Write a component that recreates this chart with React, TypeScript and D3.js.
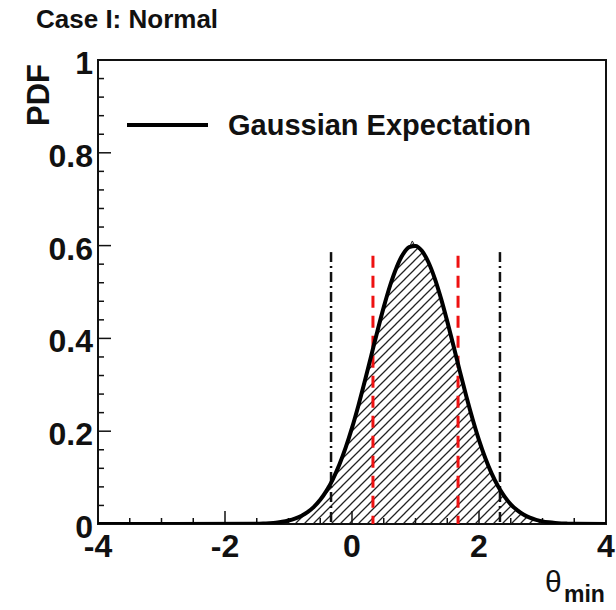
import React from "react";
import * as d3 from "d3";

// Gaussian expectation curve
const curveX = [-4, -1.5, -1.4, -1.3, -1.2, -1.1, -1.0, -0.9, -0.8, -0.7, -0.6, -0.5, -0.4, -0.3, -0.2, -0.1, 0.0, 0.1, 0.2, 0.3, 0.4, 0.5, 0.6, 0.7, 0.8, 0.9, 1.0, 1.1, 1.2, 1.3, 1.4, 1.5, 1.6, 1.7, 1.8, 1.9, 2.0, 2.1, 2.2, 2.3, 2.4, 2.5, 2.6, 2.7, 2.8, 2.9, 3.0, 3.1, 3.2, 3.3, 3.4, 3.5, 4];
const curveY = [0, 0.0006, 0.0010, 0.0018, 0.0029, 0.0047, 0.0075, 0.0115, 0.0174, 0.0256, 0.0370, 0.0521, 0.0719, 0.0969, 0.1276, 0.1645, 0.2071, 0.2550, 0.3070, 0.3612, 0.4156, 0.4674, 0.5140, 0.5525, 0.5808, 0.5967, 0.5994, 0.5887, 0.5652, 0.5305, 0.4868, 0.4367, 0.3831, 0.3284, 0.2753, 0.2257, 0.1808, 0.1417, 0.1085, 0.0812, 0.0595, 0.0425, 0.0298, 0.0203, 0.0136, 0.0089, 0.0057, 0.0036, 0.0022, 0.0013, 0.0008, 0.0004, 0];

// Hatched histogram
const histX = [-1.5, -1.4, -1.3, -1.2, -1.1, -1.0, -0.9, -0.8, -0.7, -0.6, -0.5, -0.4, -0.3, -0.2, -0.1, 0.0, 0.1, 0.2, 0.3, 0.4, 0.5, 0.6, 0.7, 0.8, 0.9, 0.95, 1.0, 1.1, 1.2, 1.3, 1.4, 1.5, 1.6, 1.7, 1.8, 1.9, 2.0, 2.1, 2.2, 2.3, 2.4, 2.5, 2.6, 2.7, 2.8, 2.9, 3.0, 3.1, 3.2, 3.3, 3.4, 3.5];
const histY = [0.001, 0.001, 0.002, 0.003, 0.005, 0.008, 0.011, 0.018, 0.025, 0.038, 0.051, 0.073, 0.095, 0.129, 0.163, 0.209, 0.253, 0.309, 0.359, 0.417, 0.466, 0.516, 0.551, 0.582, 0.595, 0.610, 0.597, 0.587, 0.566, 0.529, 0.488, 0.435, 0.384, 0.327, 0.276, 0.224, 0.182, 0.140, 0.109, 0.080, 0.061, 0.042, 0.030, 0.020, 0.014, 0.009, 0.006, 0.004, 0.002, 0.001, 0.001, 0];

// Interval lines
const oneSigmaX = [0.33, 1.67];
const oneSigmaTop = 0.578;
const twoSigmaX = [-0.33, 2.33];
const twoSigmaTop = 0.586;

const xTickValues = [-4, -2, 0, 2, 4];
const xTickLabels = ["-4", "-2", "0", "2", "4"];
const yTickValues = [0, 0.2, 0.4, 0.6, 0.8, 1];
const yTickLabels = ["0", "0.2", "0.4", "0.6", "0.8", "1"];

const titleText = "Case I: Normal";
const legendText = "Gaussian Expectation";
const yTitle = "PDF";

const FONT = "'Liberation Sans', Arial, Helvetica, sans-serif";

export default function App() {
  const W = 616, H = 610;
  const left = 98, right = 606, top = 60, bottom = 524;
  const x = d3.scaleLinear().domain([-4, 4]).range([left, right]);
  const y = d3.scaleLinear().domain([0, 1]).range([bottom, top]);

  const curvePts: [number, number][] = curveX.map((v, i) => [v, curveY[i]]);
  const histPts: [number, number][] = histX.map((v, i) => [v, histY[i]]);

  const line = d3.line<[number, number]>().x(d => x(d[0])).y(d => y(d[1])).curve(d3.curveMonotoneX);
  const histLine = d3.line<[number, number]>().x(d => x(d[0])).y(d => y(d[1]));
  const histArea = d3.area<[number, number]>().x(d => x(d[0])).y0(y(0)).y1(d => y(d[1]));

  const xMinor = d3.range(-4, 4.001, 0.5).filter(v => Math.abs(v / 2 - Math.round(v / 2)) > 1e-6);
  const yMinor = d3.range(0, 1.001, 0.04).filter(v => Math.abs(v / 0.2 - Math.round(v / 0.2)) > 1e-6);

  return (
    <svg width={W} height={H} style={{ position: "absolute", left: 0, top: 0, background: "#fff" }}>
      <defs>
        <pattern id="hatch" patternUnits="userSpaceOnUse" width="9" height="9">
          <path d="M-1,10 L10,-1 M-5.5,5.5 L5.5,-5.5 M3.5,14.5 L14.5,3.5" stroke="#222" strokeWidth="1.3" />
        </pattern>
        <clipPath id="frame">
          <rect x={left} y={top} width={right - left} height={bottom - top} />
        </clipPath>
      </defs>
      <rect width={W} height={H} fill="#fff" />

      {/* title */}
      <text x={36} y={28} fontFamily={FONT} fontWeight="bold" fontSize={26} fill="#111">{titleText}</text>

      <g clipPath="url(#frame)">
        <path d={histArea(histPts) || ""} fill="url(#hatch)" />
        <path d={histLine(histPts) || ""} fill="none" stroke="#222" strokeWidth={1} />
      </g>

      {/* axes frame */}
      <rect x={left} y={top} width={right - left} height={bottom - top} fill="none" stroke="#111" strokeWidth={2} />

      {/* x ticks */}
      {xTickValues.map(v => (
        <line key={"xM" + v} x1={x(v)} x2={x(v)} y1={bottom} y2={bottom - 13} stroke="#111" strokeWidth={1.5} />
      ))}
      {xMinor.map(v => (
        <line key={"xm" + v} x1={x(v)} x2={x(v)} y1={bottom} y2={bottom - 6} stroke="#111" strokeWidth={1.5} />
      ))}
      {yTickValues.map(v => (
        <line key={"yM" + v} x1={left} x2={left + 13} y1={y(v)} y2={y(v)} stroke="#111" strokeWidth={1.5} />
      ))}
      {yMinor.map(v => (
        <line key={"ym" + v} x1={left} x2={left + 6} y1={y(v)} y2={y(v)} stroke="#111" strokeWidth={1.5} />
      ))}

      {/* interval lines */}
      {twoSigmaX.map(v => (
        <line key={"b" + v} x1={x(v)} x2={x(v)} y1={y(twoSigmaTop)} y2={bottom} stroke="#111" strokeWidth={2.5} strokeDasharray="10,4,2,4" />
      ))}
      {oneSigmaX.map(v => (
        <line key={"r" + v} x1={x(v)} x2={x(v)} y1={y(oneSigmaTop)} y2={bottom} stroke="#ee1111" strokeWidth={3} strokeDasharray="12,8" />
      ))}

      {/* gaussian curve */}
      <g clipPath="url(#frame)">
        <path d={line(curvePts) || ""} fill="none" stroke="#000" strokeWidth={4} strokeLinejoin="round" />
      </g>

      {/* tick labels */}
      {xTickValues.map((v, i) => (
        <text key={"xl" + v} x={x(v)} y={557} textAnchor="middle" fontFamily={FONT} fontWeight="bold" fontSize={32} fill="#111">{xTickLabels[i]}</text>
      ))}
      {yTickValues.map((v, i) => (
        <text key={"yl" + v} x={93} y={y(v) + 14} textAnchor="end" fontFamily={FONT} fontWeight="bold" fontSize={32} fill="#111">{yTickLabels[i]}</text>
      ))}

      {/* axis titles */}
      <text transform={`translate(49,64) rotate(-90)`} textAnchor="end" fontFamily={FONT} fontWeight="bold" fontSize={31} fill="#111">{yTitle}</text>
      <text x={545} y={592} fontFamily={FONT} fontSize={30} fill="#111">θ</text>
      <text x={564} y={602} fontFamily={FONT} fontWeight="bold" fontSize={23} fill="#111">min</text>

      {/* legend */}
      <line x1={127} x2={208} y1={125} y2={125} stroke="#000" strokeWidth={4} />
      <text x={228} y={135} fontFamily={FONT} fontWeight="bold" fontSize={29} fill="#111">{legendText}</text>
    </svg>
  );
}
